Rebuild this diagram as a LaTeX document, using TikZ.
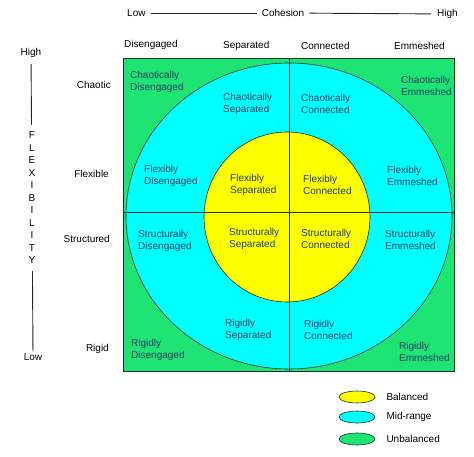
\documentclass[tikz,border=0pt]{standalone}
\usepackage{fontspec}
\setmainfont{Liberation Sans}
\usepackage{tikz}
\usetikzlibrary{positioning,shapes.geometric}
\definecolor{unbal}{RGB}{30,228,115}
\definecolor{midr}{RGB}{0,255,255}
\definecolor{bal}{RGB}{255,255,0}
\definecolor{celltxt}{RGB}{25,60,105}
\definecolor{gridln}{RGB}{20,50,40}
\tikzset{
  lbl/.style={font=\fontsize{10}{11.5}\selectfont, inner sep=1pt},
  cell/.style={lbl, celltxt, align=left, anchor=west},
  rowlbl/.style={lbl, anchor=east},
  collbl/.style={lbl, anchor=west},
  axisln/.style={black!85, line width=0.9pt},
  zone/.style={draw=gridln, line width=0.6pt},
  legdot/.style={ellipse, draw=gridln, line width=0.6pt, minimum width=36pt, minimum height=12pt},
}
\begin{document}
\begin{tikzpicture}[x=1pt,y=-1pt]
  \useasboundingbox (0,0) rectangle (474,457);
  % cohesion axis
  \node[lbl, anchor=west] (cohlow) at (126,13) {Low};
  \node[lbl] (cohmid) at (283,13) {Cohesion};
  \node[lbl, anchor=east] (cohhigh) at (459,14) {High};
  \draw[axisln, shorten <=4pt, shorten >=4pt] (cohlow) -- (cohmid);
  \draw[axisln, shorten <=4pt, shorten >=5pt] (cohmid) -- (cohhigh);
  % flexibility axis
  \node[lbl] (flexhigh) at (31,53) {High};
  \node[lbl, align=center, font=\fontsize{10}{12.5}\selectfont] (flex) at (32,198)
    {F\\L\\E\\X\\I\\B\\I\\L\\I\\T\\Y};
  \node[lbl] (flexlow) at (33,357) {Low};
  \draw[axisln, shorten <=5pt, shorten >=6pt] (flexhigh) -- (flex);
  \draw[axisln, shorten <=6pt, shorten >=1pt] (flex) -- (flexlow);
  % zones
  \fill[unbal] (123,59) rectangle (454,371);
  \filldraw[zone, fill=midr] (289,216) ellipse [x radius=163pt, y radius=153pt];
  \filldraw[zone, fill=bal] (287,217) ellipse [x radius=83pt, y radius=85pt];
  \draw[zone] (289,59) -- (289,371);
  \draw[zone] (123,212) -- (454,212);
  \draw[gridln, line width=1pt] (123,59) rectangle (454,371);
  % column and row headers
  \node[collbl] (hdis) at (123,45) {Disengaged};
  \node[collbl] (hsep) at (222,46) {Separated};
  \node[collbl] (hcon) at (300,46) {Connected};
  \node[collbl] (hemm) at (393,46) {Emmeshed};
  \node[rowlbl] (rcha) at (112,85) {Chaotic};
  \node[rowlbl] (rfle) at (110,174) {Flexible};
  \node[rowlbl] (rstr) at (111,239) {Structured};
  \node[rowlbl] (rrig) at (110,349) {Rigid};
  % cells
  \node[cell] (cdis) at (129,82) {Chaotically\\Disengaged};
  \node[cell] (csep) at (222,104) {Chaotically\\Separated};
  \node[cell] (ccon) at (300,104) {Chaotically\\Connected};
  \node[cell] (cemm) at (400,86) {Chaotically\\Emmeshed};
  \node[cell] (fdis) at (143,176) {Flexibly\\Disengaged};
  \node[cell] (fsep) at (229,185) {Flexibly\\Separated};
  \node[cell] (fcon) at (302,185) {Flexibly\\Connected};
  \node[cell] (femm) at (386,176) {Flexibly\\Emmeshed};
  \node[cell] (sdis) at (137,241) {Structurally\\Disengaged};
  \node[cell] (ssep) at (228,239) {Structurally\\Separated};
  \node[cell] (scon) at (300,239) {Structurally\\Connected};
  \node[cell] (semm) at (384,240) {Structurally\\Emmeshed};
  \node[cell] (rdis) at (130,350) {Rigidly\\Disengaged};
  \node[cell] (rsep) at (224,330) {Rigidly\\Separated};
  \node[cell] (rcon) at (303,330) {Rigidly\\Connected};
  \node[cell] (remm) at (398,352) {Rigidly\\Emmeshed};
  % legend
  \node[legdot, fill=bal] (kbal) at (357,397) {};
  \node[legdot, fill=midr] (kmid) at (357,417) {};
  \node[legdot, fill=unbal] (kunb) at (357,439) {};
  \node[lbl, right=10pt of kbal] (tbal) {Balanced};
  \node[lbl, right=10pt of kmid] (tmid) {Mid-range};
  \node[lbl, right=10pt of kunb] (tunb) {Unbalanced};
\end{tikzpicture}
\end{document}
